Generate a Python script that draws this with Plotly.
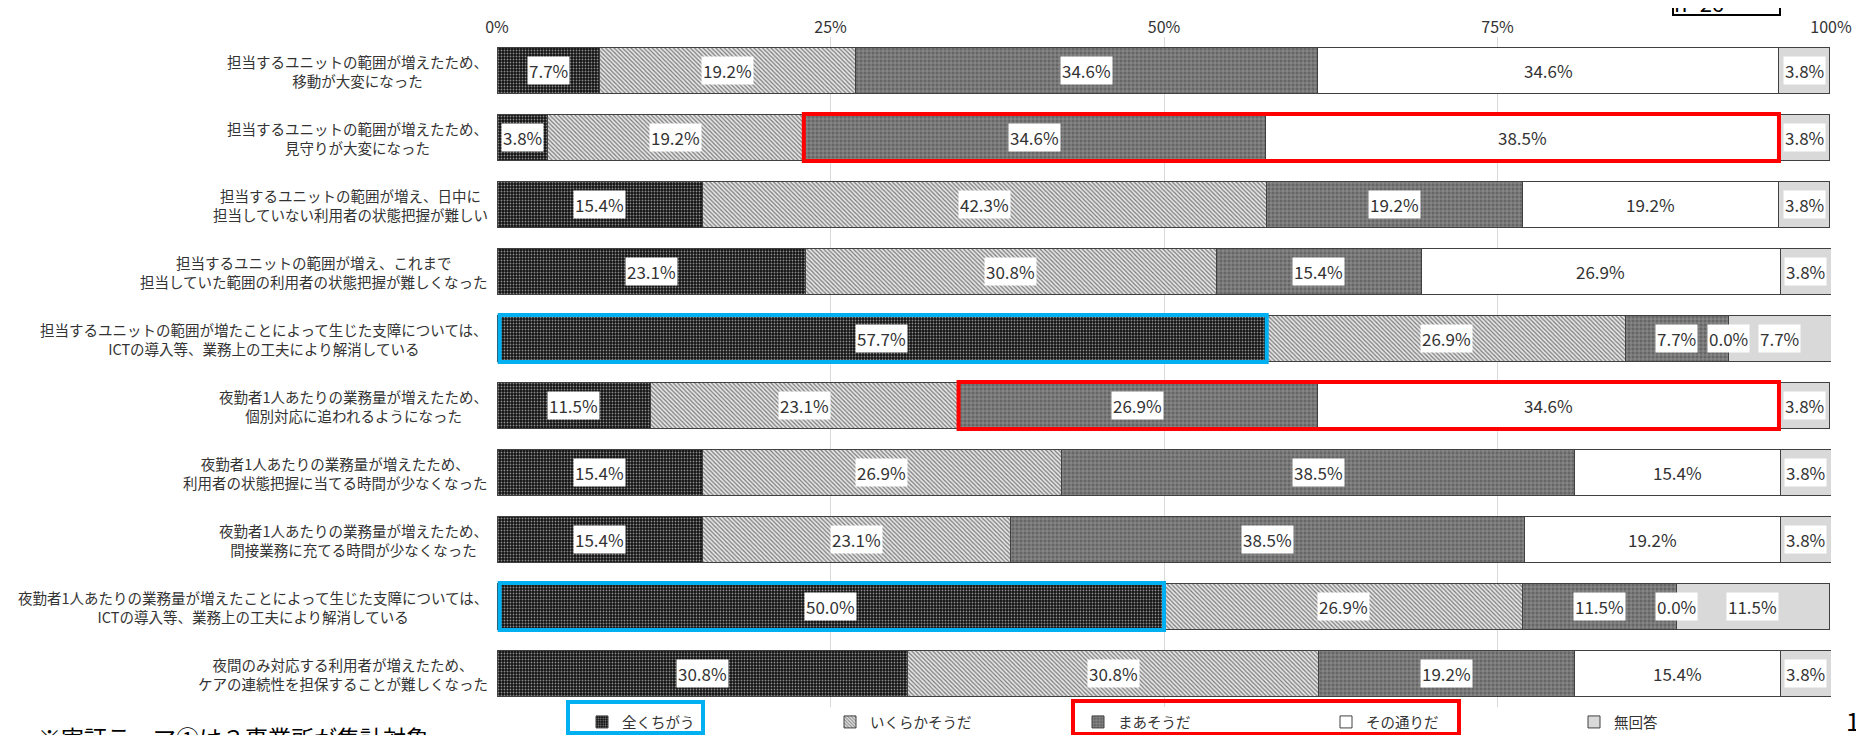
import plotly.graph_objects as go

categories = [
    "担当するユニットの範囲が増えたため、<br>移動が大変になった",
    "担当するユニットの範囲が増えたため、<br>見守りが大変になった",
    "担当するユニットの範囲が増え、日中に<br>担当していない利用者の状態把握が難しい",
    "担当するユニットの範囲が増え、これまで<br>担当していた範囲の利用者の状態把握が難しくなった",
    "担当するユニットの範囲が増たことによって生じた支障については、<br>ICTの導入等、業務上の工夫により解消している",
    "夜勤者1人あたりの業務量が増えたため、<br>個別対応に追われるようになった",
    "夜勤者1人あたりの業務量が増えたため、<br>利用者の状態把握に当てる時間が少なくなった",
    "夜勤者1人あたりの業務量が増えたため、<br>間接業務に充てる時間が少なくなった",
    "夜勤者1人あたりの業務量が増えたことによって生じた支障については、<br>ICTの導入等、業務上の工夫により解消している",
    "夜間のみ対応する利用者が増えたため、<br>ケアの連続性を担保することが難しくなった",
]
series_names = ["全くちがう", "いくらかそうだ", "まあそうだ", "その通りだ", "無回答"]
zenku_chigau = [7.7, 3.8, 15.4, 23.1, 57.7, 11.5, 15.4, 15.4, 50.0, 30.8]
ikuraka_souda = [19.2, 19.2, 42.3, 30.8, 26.9, 23.1, 26.9, 23.1, 26.9, 30.8]
maa_souda = [34.6, 34.6, 19.2, 15.4, 7.7, 26.9, 38.5, 38.5, 11.5, 19.2]
sono_toori = [34.6, 38.5, 19.2, 26.9, 0.0, 34.6, 15.4, 19.2, 0.0, 15.4]
mukaitou = [3.8, 3.8, 3.8, 3.8, 7.7, 3.8, 3.8, 3.8, 11.5, 3.8]
tick_values = [0, 25, 50, 75, 100]
tick_labels = ["0%", "25%", "50%", "75%", "100%"]
sample_label = "n=26"
note_text = "※実証テーマ①は３事業所が集計対象"
page_number = "1"

red_rows = [1, 5]
blue_rows = [4, 8]

FONT = "Noto Sans CJK JP"
series = [zenku_chigau, ikuraka_souda, maa_souda, sono_toori, mukaitou]
styles = [
    dict(shape=".", bgcolor="#111111", fgcolor="#8c8c8c", size=3, solidity=0.3),
    dict(shape="\\", bgcolor="#e6e6e6", fgcolor="#7a7a7a", size=3, solidity=0.4),
    dict(shape="+", bgcolor="#666666", fgcolor="#a6a6a6", size=4, solidity=0.25),
    None,
    None,
]
plain_colors = [None, None, None, "#ffffff", "#d9d9d9"]

fig = go.Figure()
for name, vals, st, pc in zip(series_names, series, styles, plain_colors):
    marker = dict(line=dict(color="#404040", width=1))
    if st is not None:
        marker["color"] = st["bgcolor"]
        marker["pattern"] = dict(shape=st["shape"], bgcolor=st["bgcolor"], fgcolor=st["fgcolor"],
                                 size=st["size"], solidity=st["solidity"], fillmode="replace")
    else:
        marker["color"] = pc
    fig.add_trace(go.Bar(y=categories, x=vals, name=name, orientation="h",
                         marker=marker, hoverinfo="skip"))

annotations = []
shapes = []
for i, cat in enumerate(categories):
    cum = 0.0
    for vals in series:
        v = vals[i]
        annotations.append(dict(x=cum + v / 2, y=cat, xref="x", yref="y", text=f"{v:.1f}%",
                                showarrow=False, bgcolor="white", borderpad=1,
                                font=dict(family=FONT, size=17, color="#333333")))
        cum += v
    annotations.append(dict(x=0, y=cat, xref="paper", yref="y", text=cat, showarrow=False,
                            xanchor="right", align="center", xshift=-7,
                            font=dict(family=FONT, size=14.5, color="#333333")))

for i in red_rows:
    x0 = zenku_chigau[i] + ikuraka_souda[i]
    x1 = x0 + maa_souda[i] + sono_toori[i]
    shapes.append(dict(type="rect", xref="x", yref="y", x0=x0, x1=x1, y0=i - 0.35, y1=i + 0.35,
                       line=dict(color="#ff0000", width=4)))
for i in blue_rows:
    shapes.append(dict(type="rect", xref="x", yref="y", x0=0.2, x1=zenku_chigau[i], y0=i - 0.35, y1=i + 0.35,
                       line=dict(color="#00b0f0", width=4)))

# page has an 8px body margin: figure is drawn at screen offset (8, 8)
OFF = 8
W, H = 1864 - OFF, 735 - OFF
L, R, T, B = 497 - OFF, 33, 37 - OFF, 28
pw, ph = W - L - R, H - T - B


def px_x(sx):
    return (sx - OFF - L) / pw


def px_y(sy):
    return (H - B - (sy - OFF)) / ph


shapes.append(dict(type="rect", xref="paper", yref="paper", x0=px_x(568), x1=px_x(703),
                   y0=px_y(733), y1=px_y(702), line=dict(color="#00b0f0", width=4)))
shapes.append(dict(type="rect", xref="paper", yref="paper", x0=px_x(1073), x1=px_x(1459),
                   y0=px_y(734), y1=px_y(701), line=dict(color="#ff0000", width=4)))
shapes.append(dict(type="rect", xref="paper", yref="paper", x0=px_x(1673), x1=px_x(1780),
                   y0=px_y(15), y1=px_y(-30), line=dict(color="#000000", width=2)))
annotations.append(dict(x=px_x(1726), y=px_y(2), xref="paper", yref="paper", text=sample_label,
                        showarrow=False, yanchor="middle", font=dict(family=FONT, size=22, color="#000")))
annotations.append(dict(x=px_x(36), y=px_y(737), xref="paper", yref="paper", text=note_text,
                        showarrow=False, xanchor="left", yanchor="middle",
                        font=dict(family=FONT, size=23, color="#000")))
annotations.append(dict(x=px_x(1862), y=px_y(720), xref="paper", yref="paper", text=page_number,
                        showarrow=False, xanchor="right", yanchor="middle",
                        font=dict(family=FONT, size=25, color="#000")))

fig.update_layout(
    width=W, height=H,
    margin=dict(l=L, r=R, t=T, b=B, autoexpand=False),
    barmode="stack", bargap=0.31,
    plot_bgcolor="white", paper_bgcolor="white",
    font=dict(family=FONT, size=15, color="#333333"),
    xaxis=dict(range=[0, 100], side="top", tickvals=tick_values, ticktext=tick_labels,
               showgrid=True, gridcolor="#d9d9d9", gridwidth=1, zeroline=False, showline=False,
               ticks="", tickfont=dict(family=FONT, size=16, color="#333333")),
    yaxis=dict(autorange="reversed", showticklabels=False, showgrid=False, zeroline=False,
               showline=False, ticks=""),
    legend=dict(orientation="h", x=px_x(582), y=px_y(706), xanchor="left", yanchor="top",
                entrywidth=203, entrywidthmode="pixels", itemwidth=30, traceorder="normal",
                font=dict(family=FONT, size=14.5, color="#333333"), bgcolor="rgba(0,0,0,0)"),
    annotations=annotations, shapes=shapes,
)

fig.write_html("out.html")
